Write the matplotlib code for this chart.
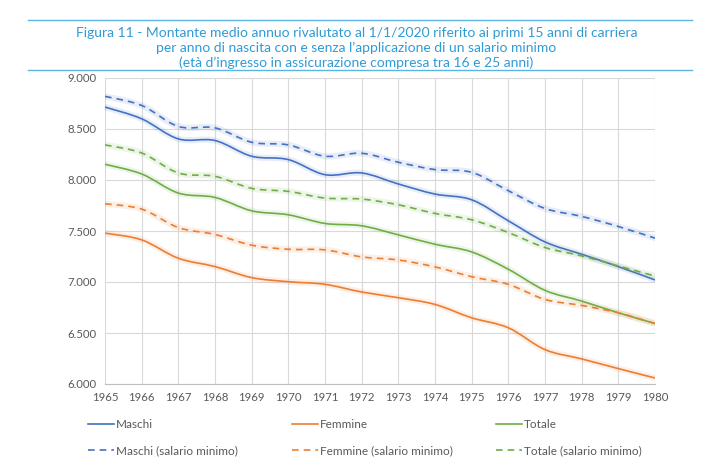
import matplotlib.pyplot as plt
import numpy as np
from matplotlib.lines import Line2D
from matplotlib.patches import PathPatch
from matplotlib.path import Path
from matplotlib.ticker import FuncFormatter

plt.rcParams['font.family'] = ['Lato', 'DejaVu Sans']

anni = list(range(1965, 1981))
maschi = [8715, 8600, 8403, 8387, 8233, 8200, 8052, 8069,
          7961, 7862, 7806, 7600, 7393, 7272, 7151, 7020]
femmine = [7479, 7413, 7233, 7151, 7043, 7003, 6977, 6902,
           6846, 6780, 6649, 6551, 6337, 6246, 6151, 6059]
totale = [8154, 8059, 7872, 7829, 7698, 7659, 7574, 7551,
          7462, 7370, 7295, 7125, 6918, 6813, 6698, 6593]
maschi_sm = [8820, 8731, 8525, 8511, 8370, 8344, 8233, 8262,
             8174, 8102, 8075, 7895, 7721, 7643, 7544, 7430]
femmine_sm = [7767, 7715, 7534, 7466, 7361, 7321, 7315, 7246,
              7216, 7148, 7052, 6977, 6829, 6770, 6698, 6593]
totale_sm = [8344, 8265, 8069, 8036, 7918, 7888, 7823, 7813,
             7757, 7672, 7610, 7485, 7338, 7256, 7157, 7059]

titolo = ("Figura 11 - Montante medio annuo rivalutato al 1/1/2020 riferito ai primi 15 anni di carriera\n"
          "per anno di nascita con e senza l\u2019applicazione di un salario minimo\n"
          "(et\u00e0 d\u2019ingresso in assicurazione compresa tra 16 e 25 anni)")

blu = '#4472C4'
arancio = '#ED7D31'
verde = '#70AD47'
azzurro = '#2E9BD6'

serie = [
    ('Maschi', maschi, blu, '-'),
    ('Femmine', femmine, arancio, '-'),
    ('Totale', totale, verde, '-'),
    ('Maschi (salario minimo)', maschi_sm, blu, '--'),
    ('Femmine (salario minimo)', femmine_sm, arancio, '--'),
    ('Totale (salario minimo)', totale_sm, verde, '--'),
]


def curva_smussata(x, y):
    # bezier a la Excel "linea smussata"
    x = np.asarray(x, float)
    y = np.asarray(y, float)
    verts = [(x[0], y[0])]
    codes = [Path.MOVETO]
    n = len(x)
    for i in range(n - 1):
        x0, y0 = (x[i - 1], y[i - 1]) if i > 0 else (x[i], y[i])
        x3, y3 = (x[i + 2], y[i + 2]) if i + 2 < n else (x[i + 1], y[i + 1])
        c1 = (x[i] + (x[i + 1] - x0) / 6, y[i] + (y[i + 1] - y0) / 6)
        c2 = (x[i + 1] - (x3 - x[i]) / 6, y[i + 1] - (y3 - y[i]) / 6)
        verts += [c1, c2, (x[i + 1], y[i + 1])]
        codes += [Path.CURVE4] * 3
    return Path(verts, codes)


fig = plt.figure(figsize=(7.13, 4.70), dpi=100)
ax = fig.add_axes([105 / 713, 1 - 384 / 470, 550 / 713, 306 / 470])

for nome, valori, col, stile in serie:
    p = curva_smussata(anni, valori)
    ax.add_patch(PathPatch(p, fill=False, edgecolor=col, lw=4.5, alpha=0.12,
                           transform=ax.transData, capstyle='round'))
    ax.add_patch(PathPatch(p, fill=False, edgecolor=col, lw=1.2,
                           linestyle=(0, (4, 3)) if stile == '--' else '-',
                           transform=ax.transData))

ax.set_xlim(1965, 1980)
ax.set_ylim(6000, 9000)
ax.set_xticks(anni)
ax.set_yticks(np.arange(6000, 9001, 500))
ax.yaxis.set_major_formatter(FuncFormatter(lambda v, _: f"{v:,.0f}".replace(',', '.')))
ax.grid(True, color='#d9d9d9', lw=0.8)
ax.set_axisbelow(True)
for s in ['top', 'right', 'left']:
    ax.spines[s].set_visible(False)
ax.spines['bottom'].set_color('#bfbfbf')
ax.tick_params(length=0, labelsize=8.2, colors='#595959', pad=6)

# titolo con le due righe azzurre
fig.text(0.5, 1 - 48 / 470, titolo, ha='center', va='center', fontsize=10,
         color=azzurro, linespacing=1.2)
for yy in [20, 70]:
    fig.add_artist(Line2D([28 / 713, 692 / 713], [1 - yy / 470] * 2,
                          color='#5DB3E3', lw=1.0, transform=fig.transFigure))

# legenda in tre colonne
for k, x0 in enumerate([88, 292, 496]):
    handles = []
    for nome, valori, col, stile in [serie[k], serie[k + 3]]:
        handles.append(Line2D([], [], color=col, lw=1.2,
                              linestyle=(0, (4, 3)) if stile == '--' else '-',
                              label=nome))
    fig.legend(handles=handles, loc='upper left',
               bbox_to_anchor=(x0 / 713, 1 - 419 / 470), frameon=False,
               fontsize=8.5, labelcolor='#595959', handlelength=2.2,
               handletextpad=0.15, borderaxespad=0, borderpad=0,
               labelspacing=1.3)

plt.savefig('out.png', dpi=100)
